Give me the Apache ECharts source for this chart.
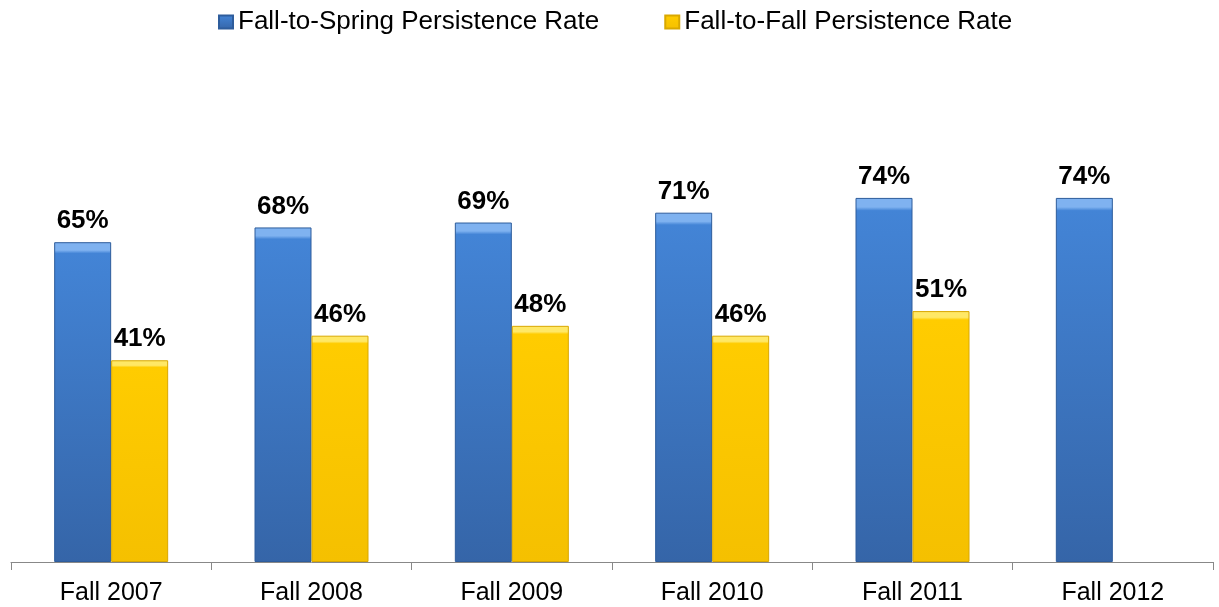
<!DOCTYPE html>
<html>
<head>
<meta charset="utf-8">
<script src="https://cdn.jsdelivr.net/npm/echarts@6/dist/echarts.min.js"></script>
<style>
  html, body { margin: 0; padding: 0; background: #fff; }
  #chart { width: 1219px; height: 607px; }
</style>
</head>
<body>
<div id="chart"></div>
<script>
// data
var categories = ['Fall 2007', 'Fall 2008', 'Fall 2009', 'Fall 2010', 'Fall 2011', 'Fall 2012'];
var springRate = [65, 68, 69, 71, 74, 74];
var fallRate = [41, 46, 48, 46, 51, null];

var chart = echarts.init(document.getElementById('chart'));

function bevel(light, mid, dark) {
  return new echarts.graphic.LinearGradient(0, 0, 0, 1, [
    { offset: 0, color: light },
    { offset: 0.025, color: light },
    { offset: 0.035, color: mid },
    { offset: 1, color: dark }
  ]);
}

var labelStyle = {
  show: true,
  position: 'top',
  distance: 8,
  fontFamily: 'Liberation Sans, Arial',
  fontWeight: 'bold',
  fontSize: 26,
  color: '#000',
  formatter: '{c}%'
};

chart.setOption({
  animation: false,
  legend: {
    top: 4,
    left: 213,
    itemWidth: 14,
    itemHeight: 13,
    itemGap: 65,
    icon: 'rect',
    textStyle: { fontFamily: 'Liberation Sans, Arial', fontSize: 26, color: '#000' },
    data: ['Fall-to-Spring Persistence Rate', 'Fall-to-Fall Persistence Rate']
  },
  grid: { left: 11, right: 6, top: 70, bottom: 45 },
  xAxis: {
    type: 'category',
    data: categories,
    axisLine: { lineStyle: { color: '#888', width: 1 } },
    axisTick: { show: true, length: 8, inside: false, lineStyle: { color: '#888' } },
    axisLabel: { fontFamily: 'Liberation Sans, Arial', fontSize: 25, color: '#000', margin: 19 }
  },
  yAxis: {
    type: 'value',
    min: 0,
    max: 100,
    show: false,
    splitLine: { show: false }
  },
  series: [
    {
      name: 'Fall-to-Spring Persistence Rate',
      type: 'bar',
      barWidth: 57,
      barGap: '0%',
      data: springRate,
      itemStyle: {
        color: bevel('#7fb2f0', '#4384d6', '#3565a8'),
        borderColor: '#2e5d9c',
        borderWidth: 1
      },
      label: labelStyle
    },
    {
      name: 'Fall-to-Fall Persistence Rate',
      type: 'bar',
      barWidth: 57,
      data: fallRate,
      itemStyle: {
        color: bevel('#ffe866', '#ffcc00', '#f5c000'),
        borderColor: '#d9a800',
        borderWidth: 1
      },
      label: labelStyle
    }
  ]
});
</script>
</body>
</html>
